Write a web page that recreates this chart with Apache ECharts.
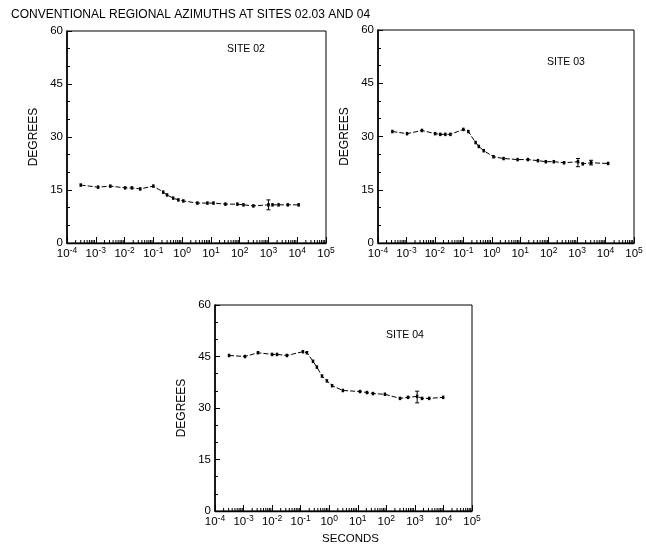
<!DOCTYPE html>
<html>
<head>
<meta charset="utf-8">
<script src="https://cdn.jsdelivr.net/npm/echarts@6/dist/echarts.min.js"></script>
<style>
  html, body { margin: 0; padding: 0; background: #fff; }
  #chart { width: 646px; height: 546px; }
</style>
</head>
<body>
<div id="chart"></div>
<script>
// periods (seconds) and azimuths (degrees)
const period02 = [0.0003, 0.0012, 0.0032, 0.0105, 0.018, 0.035, 0.1, 0.22, 0.3, 0.49, 0.74, 1.1, 3.4, 7.6, 12.3, 32, 83, 135, 300, 1000, 1380, 2240, 4700, 11200];
const azim02 = [16.4, 15.8, 16.1, 15.6, 15.6, 15.3, 16.1, 14.4, 13.6, 12.7, 12.2, 11.9, 11.3, 11.3, 11.3, 11.0, 11.0, 10.8, 10.5, 10.8, 10.8, 10.8, 10.8, 10.8];

const period03 = [0.00032, 0.00105, 0.0035, 0.0102, 0.0155, 0.0234, 0.035, 0.1, 0.15, 0.27, 0.35, 0.52, 1.15, 2.6, 8.1, 18.6, 42, 79, 151, 347, 1070, 1580, 3090, 12300];
const azim03 = [31.4, 30.8, 31.7, 30.8, 30.6, 30.6, 30.6, 32.0, 31.4, 28.3, 27.2, 26.0, 24.3, 23.8, 23.5, 23.5, 23.2, 22.9, 22.9, 22.6, 22.9, 22.3, 22.6, 22.4];

const period04 = [0.00031, 0.00112, 0.0032, 0.01, 0.0148, 0.033, 0.12, 0.166, 0.27, 0.37, 0.56, 0.83, 1.26, 3.0, 12, 21, 34, 89, 302, 575, 1200, 1780, 3160, 9800];
const azim04 = [45.3, 45.0, 46.1, 45.6, 45.6, 45.3, 46.4, 46.1, 43.6, 41.9, 39.3, 37.9, 36.5, 35.1, 34.8, 34.5, 34.2, 34.0, 32.8, 33.1, 33.4, 32.8, 32.8, 33.1];

// error bars: period, low, high
const err02 = [[1000, 9.4, 12.2]];
const err03 = [[1070, 21.5, 23.8], [3090, 22.0, 23.3]];
const err04 = [[1200, 31.5, 34.9]];

// tick labels are 10 raised to these exponents
const xTickExp = ['-4', '-3', '-2', '-1', '0', '1', '2', '3', '4', '5'];
const yTicks = [0, 15, 30, 45, 60];
const siteNames = ['SITE 02', 'SITE 03', 'SITE 04'];

const FONT = 'Liberation Sans';

// minor tick positions 2..9 in each decade
let minorTicks = [];
for (let e = -4; e < 5; e++) {
  for (let k = 2; k < 10; k++) minorTicks.push([k * Math.pow(10, e), 0]);
}

function xAxisOpt(idx, name) {
  return {
    type: 'log', logBase: 10, gridIndex: idx,
    min: 1e-4, max: 1e5, interval: 1,
    name: name || '', nameLocation: 'middle', nameGap: 22,
    nameTextStyle: { fontFamily: FONT, fontSize: 11.5, color: '#000', padding: [0, 0, 0, 14] },
    axisLine: { lineStyle: { color: '#000', width: 1.3 } },
    axisTick: { inside: true, length: 6, lineStyle: { color: '#000' } },
    axisLabel: {
      fontFamily: FONT, fontSize: 11, color: '#000', margin: 3,
      formatter: (v) => '{b|10}{s|' + xTickExp[Math.round(Math.log10(v)) + 4] + '}',
      rich: {
        b: { fontFamily: FONT, fontSize: 11.5, color: '#000' },
        s: { fontFamily: FONT, fontSize: 8.5, color: '#000', padding: [0, 0, 6, 0] }
      }
    },
    splitLine: { show: false }
  };
}

function yAxisOpt(idx) {
  return {
    type: 'value', gridIndex: idx, min: 0, max: 60, interval: 15,
    name: 'DEGREES', nameLocation: 'middle', nameGap: 27,
    nameTextStyle: { fontFamily: FONT, fontSize: 12, color: '#000' },
    axisLine: { show: true, lineStyle: { color: '#000', width: 1.6 } },
    axisTick: { inside: true, length: 5, lineStyle: { color: '#000' } },
    minorTick: { show: true, splitNumber: 3, length: 3, lineStyle: { color: '#000' } },
    axisLabel: {
      fontFamily: FONT, fontSize: 11.5, color: '#000', margin: 4,
      formatter: (v) => yTicks.indexOf(v) >= 0 ? String(v) : ''
    },
    splitLine: { show: false }
  };
}

function lineSeries(idx, periods, vals) {
  return {
    type: 'line', xAxisIndex: idx, yAxisIndex: idx,
    data: periods.map((p, i) => [p, vals[i]]),
    showAllSymbol: true,
    symbol: 'rect', symbolSize: [2.5, 3.5],
    itemStyle: { color: '#000' },
    lineStyle: { color: '#000', width: 1, type: [5, 2] },
    animation: false
  };
}

function minorSeries(idx) {
  return {
    type: 'custom', xAxisIndex: idx, yAxisIndex: idx, silent: true,
    data: minorTicks,
    renderItem: (params, api) => {
      const p = api.coord([api.value(0), 0]);
      return { type: 'line', shape: { x1: p[0], y1: p[1], x2: p[0], y2: p[1] - 3 }, style: { stroke: '#000', lineWidth: 1 } };
    },
    animation: false
  };
}

function errSeries(idx, bars) {
  return {
    type: 'custom', xAxisIndex: idx, yAxisIndex: idx, silent: true,
    data: bars,
    renderItem: (params, api) => {
      const lo = api.coord([api.value(0), api.value(1)]);
      const hi = api.coord([api.value(0), api.value(2)]);
      const st = { stroke: '#000', lineWidth: 1 };
      return {
        type: 'group', children: [
          { type: 'line', shape: { x1: lo[0], y1: lo[1], x2: hi[0], y2: hi[1] }, style: st },
          { type: 'line', shape: { x1: hi[0] - 2, y1: hi[1], x2: hi[0] + 2, y2: hi[1] }, style: st },
          { type: 'line', shape: { x1: lo[0] - 2, y1: lo[1], x2: lo[0] + 2, y2: lo[1] }, style: st }
        ]
      };
    },
    animation: false
  };
}

const chart = echarts.init(document.getElementById('chart'));

const gridBox = { show: true, borderColor: '#000', borderWidth: 1, backgroundColor: 'transparent' };
const siteStyle = { fontFamily: FONT, fontSize: 10.5, fontWeight: 'normal', color: '#000' };

const options = {
  backgroundColor: '#fff',
  animation: false,
  title: [
    { text: 'CONVENTIONAL REGIONAL AZIMUTHS AT SITES 02.03 AND 04', left: 6, top: 4,
      textStyle: { fontFamily: FONT, fontSize: 12, fontWeight: 'normal', color: '#000' } },
    { text: siteNames[0], left: 222, top: 39, textStyle: siteStyle },
    { text: siteNames[1], left: 542, top: 52, textStyle: siteStyle },
    { text: siteNames[2], left: 381, top: 325, textStyle: siteStyle }
  ],
  grid: [
    Object.assign({ left: 67, top: 31, width: 259, height: 212 }, gridBox),
    Object.assign({ left: 378, top: 30, width: 256, height: 213 }, gridBox),
    Object.assign({ left: 215, top: 305, width: 257, height: 211 }, gridBox)
  ],
  xAxis: [xAxisOpt(0), xAxisOpt(1), xAxisOpt(2, 'SECONDS')],
  yAxis: [yAxisOpt(0), yAxisOpt(1), yAxisOpt(2)],
  series: [
    lineSeries(0, period02, azim02),
    lineSeries(1, period03, azim03),
    lineSeries(2, period04, azim04),
    errSeries(0, err02),
    errSeries(1, err03),
    errSeries(2, err04),
    minorSeries(0),
    minorSeries(1),
    minorSeries(2)
  ]
};

chart.setOption(options);
</script>
</body>
</html>
